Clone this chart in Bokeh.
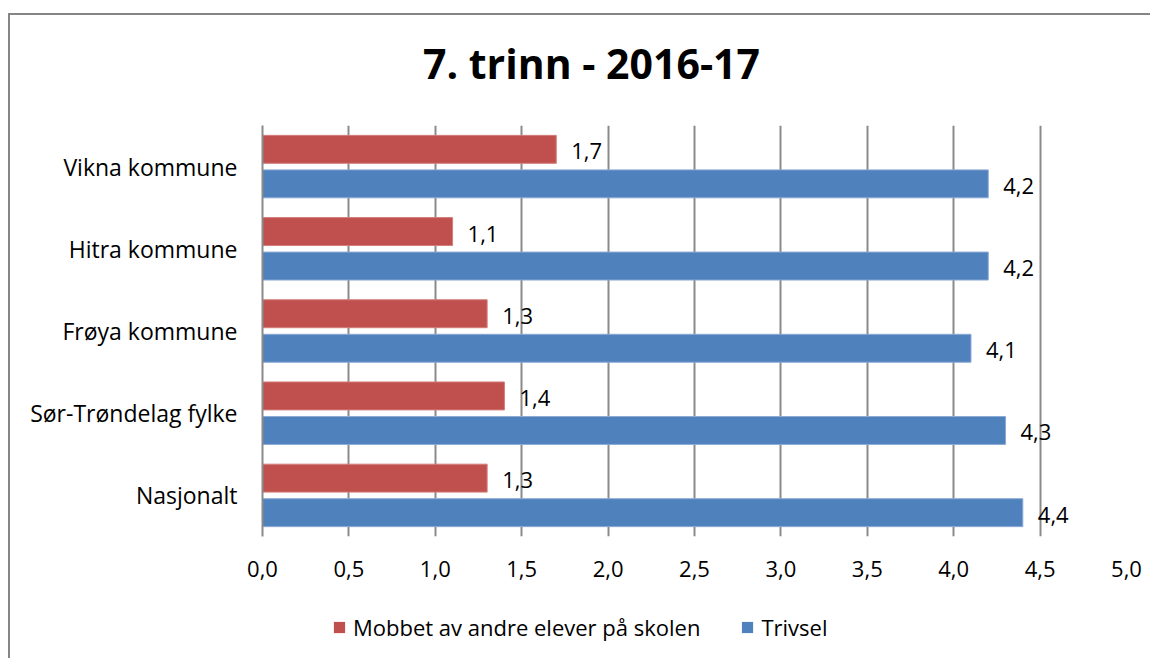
from bokeh.plotting import figure
from bokeh.layouts import column
from bokeh.models import (ColumnDataSource, FactorRange, Range1d, LabelSet, Legend, LegendItem,
                          SingleIntervalTicker, CustomJSTickFormatter)
from bokeh.core.properties import value
from bokeh.transform import dodge
from bokeh.embed import file_html
from bokeh.resources import INLINE

# ---- data ----
categories = ["Vikna kommune", "Hitra kommune", "Frøya kommune", "Sør-Trøndelag fylke", "Nasjonalt"]
mobbet = [1.7, 1.1, 1.3, 1.4, 1.3]
trivsel = [4.2, 4.2, 4.1, 4.3, 4.4]
series_names = ["Mobbet av andre elever på skolen", "Trivsel"]
title_text = "7. trinn - 2016-17"

RED = "#C0504D"
BLUE = "#4F81BD"
GRID = "#8a8a8a"
FONT = "Open Sans"
W = 1140
FW = 864  # plot frame width (frames are aligned across the column)

def fmt(v):
    return f"{v:.1f}".replace(".", ",")

def bare(fig):
    fig.axis.visible = False
    fig.grid.grid_line_color = None
    fig.outline_line_color = None
    fig.background_fill_color = "white"
    fig.border_fill_color = "white"
    return fig

# ---- title strip ----
pt = figure(width=W, height=110, x_range=Range1d(0, FW), y_range=Range1d(0, 110),
            output_backend="svg", toolbar_location=None,
            min_border=0, min_border_left=0, min_border_right=0, min_border_top=0, min_border_bottom=0)
bare(pt)
pt.text(x=[FW / 2 - 103], y=[63], text=[title_text], text_font=value(FONT), text_font_size="41px",
        text_font_style="bold", text_color="black", text_align="center", text_baseline="middle")

# ---- main chart ----
src = ColumnDataSource(dict(
    cat=categories,
    mobbet=mobbet,
    trivsel=trivsel,
    mob_lbl=[fmt(v) for v in mobbet],
    triv_lbl=[fmt(v) for v in trivsel],
))

p = figure(
    width=W, height=471,
    y_range=FactorRange(*reversed(categories)),
    x_range=Range1d(0, 5),
    output_backend="svg", toolbar_location=None,
    min_border_left=252, min_border_right=24, min_border_top=0, min_border_bottom=60,
)
p.frame_width = FW
p.frame_height = 411
p.outline_line_color = None
p.background_fill_color = "white"
p.border_fill_color = "white"
p.title.visible = False

r_mob = p.hbar(y=dodge("cat", 0.21, range=p.y_range), right="mobbet", height=0.34, source=src,
               fill_color=RED, line_color="#D37E7B", line_width=1)
r_triv = p.hbar(y=dodge("cat", -0.21, range=p.y_range), right="trivsel", height=0.34, source=src,
                fill_color=BLUE, line_color="#8BAAD4", line_width=1)

for col, lbl, off in (("mobbet", "mob_lbl", 0.21), ("trivsel", "triv_lbl", -0.21)):
    ls = LabelSet(x=col, y=dodge("cat", off, range=p.y_range), text=lbl, source=src,
                  x_offset=15, y_offset=-2, text_baseline="middle", text_align="left",
                  text_font=value(FONT), text_font_size="22px", text_color="black")
    p.add_layout(ls)

p.xaxis.ticker = SingleIntervalTicker(interval=0.5)
p.xaxis.formatter = CustomJSTickFormatter(code="return tick.toFixed(1).replace('.', ',');")
p.xaxis.axis_line_color = None
p.xaxis.major_tick_line_color = None
p.xaxis.minor_tick_line_color = None
p.xaxis.major_label_text_font = FONT
p.xaxis.major_label_text_font_size = "22px"
p.xaxis.major_label_text_color = "black"
p.xaxis.major_label_standoff = 18

p.yaxis.axis_line_color = GRID
p.yaxis.axis_line_width = 2
p.yaxis.major_tick_line_color = None
p.yaxis.major_tick_out = 0
p.yaxis.major_tick_in = 0
p.yaxis.major_label_text_font = FONT
p.yaxis.major_label_text_font_size = "23px"
p.yaxis.major_label_text_color = "black"
p.yaxis.major_label_standoff = 25

p.xgrid.grid_line_color = GRID
p.xgrid.grid_line_width = 2
p.ygrid.grid_line_color = None

# ---- legend strip ----
pl = figure(width=W, height=62, x_range=Range1d(0, FW), y_range=Range1d(0, 62),
            output_backend="svg", toolbar_location=None,
            min_border=0, min_border_left=0, min_border_right=0, min_border_top=0, min_border_bottom=0)
bare(pl)
# legend swatch renderers (kept outside the visible range; only their legend glyphs show)
lg_mob = pl.hbar(y=[-1000], left=[0], right=[1], height=1, fill_color=RED, line_color=None)
lg_triv = pl.hbar(y=[-1000], left=[0], right=[1], height=1, fill_color=BLUE, line_color=None)
legend = Legend(items=[LegendItem(label=series_names[0], renderers=[lg_mob]),
                       LegendItem(label=series_names[1], renderers=[lg_triv])],
                orientation="horizontal", location=(70, 16),
                glyph_width=14, glyph_height=14, label_standoff=7, spacing=40,
                padding=0, margin=0, border_line_color=None, background_fill_alpha=0,
                label_text_font=FONT, label_text_font_size="22px", label_text_color="black")
pl.add_layout(legend, "center")

layout = column(pt, p, pl, spacing=0,
                styles={"margin-left": "8px", "margin-top": "13px",
                        "border-left": "2px solid #858585", "border-top": "2px solid #858585",
                        "border-right": "0px none", "border-bottom": "0px none"})

open("out.html", "w").write(file_html(layout, INLINE))
